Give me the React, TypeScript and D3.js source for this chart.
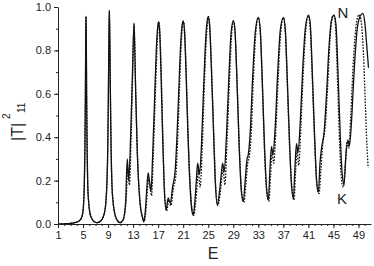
import { axisBottom, axisLeft, curveMonotoneX, format, line, range, scaleLinear, select } from 'd3';
import type { ScaleLinear } from 'd3';
import { useEffect, useRef } from 'react';

// |T|^2_11 vs E: [E, T]
const curveN: [number, number][] = [
  [1, 0.0], [2, 0.001], [3, 0.003], [3.8, 0.007], [4.3, 0.013], [4.7, 0.025], [4.95, 0.05],
  [5.1, 0.1], [5.2, 0.18], [5.3, 0.35], [5.38, 0.6], [5.43, 0.85], [5.47, 0.958], [5.52, 0.85],
  [5.57, 0.6], [5.65, 0.35], [5.75, 0.18], [5.9, 0.1], [6.1, 0.05], [6.4, 0.025], [6.8, 0.01],
  [7.2, 0.006], [7.6, 0.01], [8.0, 0.02], [8.4, 0.05], [8.65, 0.1], [8.8, 0.18], [8.95, 0.35],
  [9.05, 0.6], [9.13, 0.85], [9.2, 0.986], [9.28, 0.85], [9.37, 0.6], [9.48, 0.35], [9.62, 0.18],
  [9.8, 0.1], [10.05, 0.05], [10.4, 0.02], [10.9, 0.006],
  [11.43, 0.02], [11.8, 0.1], [12.07, 0.3], [12.3, 0.2], [12.6, 0.4], [12.9, 0.7], [13.14, 0.926],
  [13.4, 0.62], [13.67, 0.33], [14.1, 0.1], [14.5, 0.03], [14.7, 0.01],
  [14.95, 0.06], [15.2, 0.17], [15.4, 0.236], [15.6, 0.2], [15.86, 0.149], [16.1, 0.3], [16.4, 0.55],
  [16.7, 0.8], [16.9, 0.9], [17.08, 0.932], [17.25, 0.88], [17.45, 0.7], [17.7, 0.42], [17.95, 0.18],
  [18.25, 0.065],
  [18.6, 0.12], [18.95, 0.095], [19.3, 0.17], [19.7, 0.24], [20.0, 0.4], [20.3, 0.62], [20.6, 0.83],
  [20.85, 0.92], [21.0, 0.935], [21.2, 0.89], [21.45, 0.7], [21.75, 0.42], [22.1, 0.17], [22.4, 0.06],
  [22.6, 0.041],
  [22.85, 0.1], [23.1, 0.2], [23.3, 0.28], [23.6, 0.23], [23.9, 0.35], [24.2, 0.58], [24.5, 0.8],
  [24.8, 0.93], [25.0, 0.955], [25.2, 0.92], [25.5, 0.72], [25.85, 0.42], [26.15, 0.18], [26.45, 0.088],
  [26.8, 0.15], [27.05, 0.22], [27.3, 0.28], [27.55, 0.24], [27.9, 0.4], [28.3, 0.68], [28.65, 0.88],
  [29.0, 0.937], [29.25, 0.9], [29.6, 0.65], [29.95, 0.35], [30.3, 0.15], [30.6, 0.103],
  [30.9, 0.2], [31.2, 0.3], [31.4, 0.32], [31.7, 0.42], [32.1, 0.68], [32.5, 0.88], [33.0, 0.952],
  [33.3, 0.9], [33.65, 0.65], [34.0, 0.35], [34.3, 0.17], [34.6, 0.11],
  [34.85, 0.25], [35.1, 0.356], [35.35, 0.32], [35.7, 0.45], [36.1, 0.7], [36.5, 0.89], [37.0, 0.952],
  [37.3, 0.9], [37.65, 0.65], [38.0, 0.37], [38.3, 0.18], [38.6, 0.118],
  [38.85, 0.26], [39.1, 0.37], [39.35, 0.33], [39.7, 0.47], [40.1, 0.72], [40.5, 0.9], [41.0, 0.963],
  [41.3, 0.92], [41.65, 0.68], [42.0, 0.4], [42.3, 0.2], [42.6, 0.146],
  [42.85, 0.28], [43.1, 0.35], [43.5, 0.42], [43.9, 0.6], [44.3, 0.82], [44.7, 0.94], [45.1, 0.963],
  [45.4, 0.92], [45.75, 0.68], [46.1, 0.4], [46.4, 0.23], [46.7, 0.184],
  [47.0, 0.32], [47.3, 0.387], [47.55, 0.36], [47.9, 0.48], [48.3, 0.7], [48.8, 0.9], [49.3, 0.96],
  [49.7, 0.971], [50.0, 0.93], [50.3, 0.83], [50.6, 0.72],
];

const curveK: [number, number][] = [
  [1, 0.0], [2, 0.001], [3, 0.003], [3.8, 0.007], [4.3, 0.013], [4.7, 0.025], [4.95, 0.05],
  [5.1, 0.1], [5.2, 0.18], [5.3, 0.35], [5.38, 0.6], [5.43, 0.85], [5.47, 0.955], [5.52, 0.85],
  [5.57, 0.6], [5.65, 0.35], [5.75, 0.18], [5.9, 0.1], [6.1, 0.05], [6.4, 0.025], [6.8, 0.01],
  [7.2, 0.006], [7.6, 0.01], [8.0, 0.02], [8.4, 0.05], [8.65, 0.1], [8.8, 0.18], [8.95, 0.35],
  [9.05, 0.6], [9.13, 0.85], [9.2, 0.98], [9.28, 0.85], [9.37, 0.6], [9.48, 0.35], [9.62, 0.18],
  [9.8, 0.1], [10.05, 0.05], [10.4, 0.02], [11.0, 0.006],
  [11.5, 0.03], [11.9, 0.12], [12.15, 0.26], [12.4, 0.18], [12.7, 0.42], [12.95, 0.72], [13.15, 0.92],
  [13.4, 0.62], [13.67, 0.33], [14.1, 0.1], [14.5, 0.03], [14.75, 0.01],
  [15.0, 0.05], [15.3, 0.16], [15.5, 0.21], [15.7, 0.17], [15.95, 0.13], [16.2, 0.3], [16.5, 0.56],
  [16.8, 0.8], [17.0, 0.92], [17.1, 0.93], [17.3, 0.87], [17.5, 0.69], [17.75, 0.4], [18.0, 0.17],
  [18.35, 0.06],
  [18.7, 0.11], [19.05, 0.085], [19.4, 0.16], [19.85, 0.23], [20.1, 0.38], [20.4, 0.62], [20.7, 0.84],
  [20.95, 0.93], [21.05, 0.935], [21.25, 0.88], [21.5, 0.68], [21.8, 0.4], [22.15, 0.16], [22.45, 0.06],
  [22.7, 0.04],
  [22.95, 0.09], [23.25, 0.19], [23.4, 0.25], [23.7, 0.17], [24.0, 0.32], [24.3, 0.57], [24.6, 0.8],
  [24.9, 0.93], [25.05, 0.955], [25.25, 0.91], [25.55, 0.7], [25.9, 0.4], [26.2, 0.17], [26.55, 0.085],
  [26.9, 0.14], [27.2, 0.22], [27.4, 0.25], [27.65, 0.18], [28.0, 0.38], [28.4, 0.67], [28.75, 0.88],
  [29.05, 0.935], [29.3, 0.88], [29.65, 0.62], [30.0, 0.33], [30.35, 0.14], [30.7, 0.1],
  [31.0, 0.18], [31.3, 0.28], [31.55, 0.31], [31.85, 0.41], [32.2, 0.66], [32.6, 0.88], [33.0, 0.95],
  [33.3, 0.89], [33.65, 0.63], [34.0, 0.33], [34.35, 0.15], [34.7, 0.105],
  [34.95, 0.22], [35.2, 0.33], [35.45, 0.28], [35.8, 0.43], [36.2, 0.69], [36.6, 0.89], [37.0, 0.95],
  [37.3, 0.89], [37.65, 0.63], [38.0, 0.35], [38.35, 0.17], [38.7, 0.11],
  [38.95, 0.24], [39.2, 0.34], [39.45, 0.27], [39.8, 0.45], [40.2, 0.71], [40.6, 0.9], [41.0, 0.96],
  [41.3, 0.9], [41.65, 0.65], [42.0, 0.38], [42.35, 0.19], [42.7, 0.14],
  [43.0, 0.25], [43.3, 0.37], [43.7, 0.45], [44.1, 0.65], [44.5, 0.87], [44.9, 0.96], [45.1, 0.96],
  [45.35, 0.9], [45.7, 0.62], [46.0, 0.36], [46.3, 0.2], [46.6, 0.17],
  [46.9, 0.28], [47.2, 0.38], [47.45, 0.35], [47.8, 0.52], [48.2, 0.76], [48.7, 0.93], [49.1, 0.965],
  [49.45, 0.93], [49.8, 0.78], [50.1, 0.55], [50.35, 0.36], [50.55, 0.26],
];

const xMajorTicks = [1, 5, 9, 13, 17, 21, 25, 29, 33, 37, 41, 45, 49];
const yMajorTicks = [0, 0.2, 0.4, 0.6, 0.8, 1.0];

const FONT = '"Liberation Sans", Arial, sans-serif';
const INK = '#222';

interface XAxisProps {
  scale: ScaleLinear<number, number>;
  y: number;
}

interface YAxisProps {
  scale: ScaleLinear<number, number>;
  x: number;
}

const styleAxis = (g: SVGGElement) => {
  const s = select(g);
  s.selectAll('path').attr('stroke', INK);
  s.selectAll('line').attr('stroke', INK);
  s.selectAll('text').attr('fill', INK).style('font-family', FONT).style('font-size', '11px');
};

const XAxis = ({ scale, y }: XAxisProps) => {
  const major = useRef<SVGGElement>(null);
  const minor = useRef<SVGGElement>(null);

  useEffect(() => {
    if (minor.current) {
      select(minor.current)
        .call(axisBottom(scale).tickValues(range(1, 51)).tickSize(2).tickFormat(() => ''))
        .call((g) => g.select('.domain').remove());
      styleAxis(minor.current);
    }
    if (major.current) {
      select(major.current).call(
        axisBottom(scale).tickValues(xMajorTicks).tickSize(4).tickSizeOuter(0).tickPadding(3),
      );
      styleAxis(major.current);
    }
  }, [scale]);

  return (
    <g transform={`translate(0, ${y})`}>
      <g ref={minor} />
      <g ref={major} />
    </g>
  );
};

const YAxis = ({ scale, x }: YAxisProps) => {
  const major = useRef<SVGGElement>(null);
  const minor = useRef<SVGGElement>(null);

  useEffect(() => {
    if (minor.current) {
      select(minor.current)
        .call(axisLeft(scale).tickValues(range(0, 11).map((i) => i / 10)).tickSize(2).tickFormat(() => ''))
        .call((g) => g.select('.domain').remove());
      styleAxis(minor.current);
    }
    if (major.current) {
      select(major.current).call(
        axisLeft(scale)
          .tickValues(yMajorTicks)
          .tickSize(4)
          .tickSizeOuter(0)
          .tickPadding(3)
          .tickFormat((d) => format('.1f')(d as number)),
      );
      styleAxis(major.current);
    }
  }, [scale]);

  return (
    <g transform={`translate(${x}, 0)`}>
      <g ref={minor} />
      <g ref={major} />
    </g>
  );
};

export default function App() {
  const width = 374;
  const height = 266;

  const x = scaleLinear().domain([1, 51]).range([58, 371]);
  const y = scaleLinear().domain([0, 1]).range([224, 7]);

  const path = line<[number, number]>()
    .x((d) => x(d[0]))
    .y((d) => y(d[1]))
    .curve(curveMonotoneX);

  return (
    <svg
      width={width}
      height={height}
      style={{ position: 'absolute', left: 0, top: 0, background: '#fff' }}
    >
      <path d={path(curveK) ?? ''} fill="none" stroke="#111" strokeWidth={1.3} strokeDasharray="1.6,1.4" />
      <path d={path(curveN) ?? ''} fill="none" stroke="#111" strokeWidth={1.3} />

      <XAxis scale={x} y={224} />
      <YAxis scale={y} x={58} />

      <text x={213} y={259} textAnchor="middle" fontFamily={FONT} fontSize={16} fill={INK}>
        E
      </text>
      <g transform="translate(23, 141) rotate(-90)" fontFamily={FONT} fill={INK}>
        <text x={0} y={0} fontSize={16}>|T|</text>
        <text x={22} y={-13} fontSize={10}>2</text>
        <text x={28} y={2} fontSize={10}>11</text>
      </g>
      <text x={343} y={18} textAnchor="middle" fontFamily={FONT} fontSize={15} fill={INK}>
        N
      </text>
      <text x={342} y={204} textAnchor="middle" fontFamily={FONT} fontSize={15} fill={INK}>
        K
      </text>
    </svg>
  );
}
